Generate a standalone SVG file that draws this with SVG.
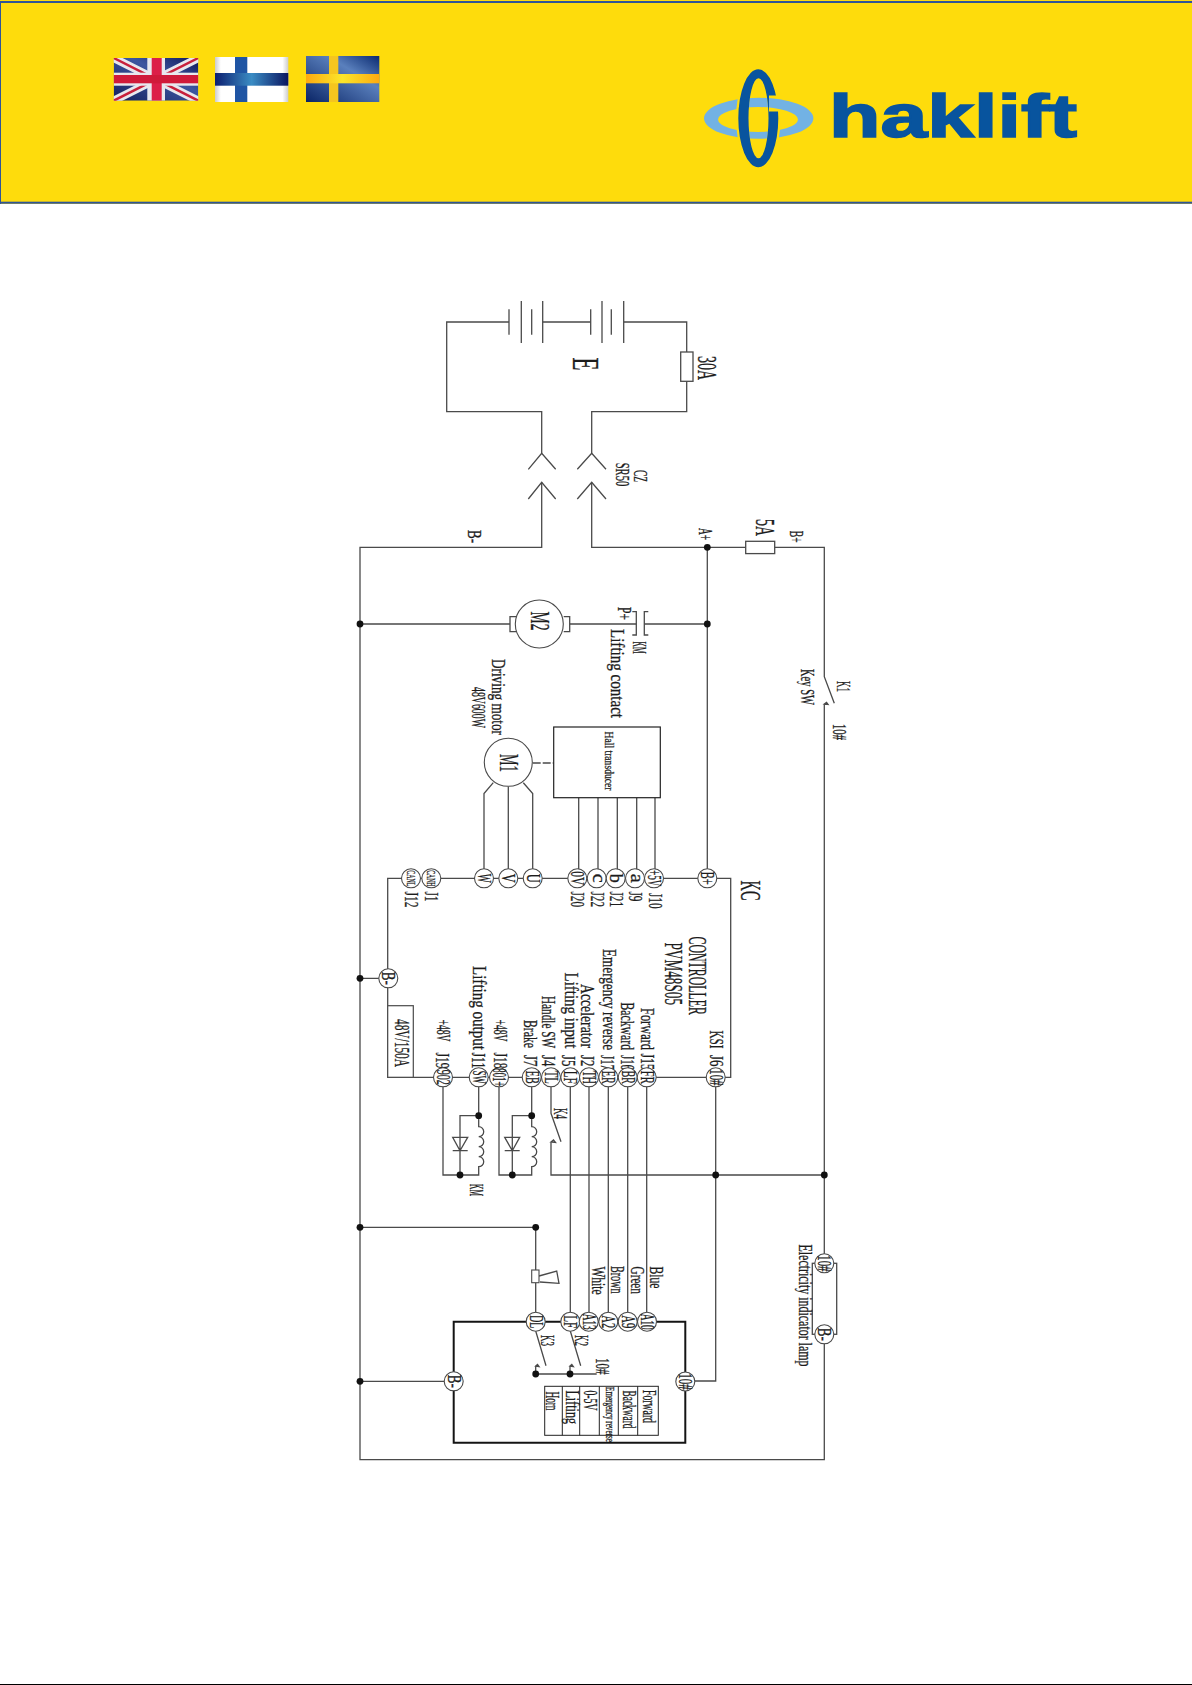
<svg xmlns="http://www.w3.org/2000/svg" width="1192" height="1685" viewBox="0 0 1192 1685">
<style>
text{font-family:"Liberation Serif",serif;fill:#1c1c1c;stroke:#1c1c1c;stroke-width:.3;font-size:19px}
.w{fill:none;stroke:#4a4a4a;stroke-width:1.3}
.b{fill:none;stroke:#141414;stroke-width:2}
.n{fill:#111}
.p{fill:#fff;stroke:#4a4a4a;stroke-width:1.1}
.m{text-anchor:middle;font-size:18px}
.s{font-size:13px}
.f{font-size:28px}
</style>
<defs>
<linearGradient id="fi" x1="0" x2="1" y1="0" y2="0"><stop offset="0" stop-color="#0c1f70"/><stop offset=".5" stop-color="#3a8cc4"/><stop offset="1" stop-color="#0a1560"/></linearGradient>
<linearGradient id="fe" x1="0" x2="1" y1="0" y2="0"><stop offset="0" stop-color="#ccc"/><stop offset=".08" stop-color="#fff"/><stop offset=".92" stop-color="#fff"/><stop offset="1" stop-color="#ccc"/></linearGradient>
<linearGradient id="se" x1="0" x2="1" y1="1" y2="0"><stop offset="0" stop-color="#0a2566"/><stop offset=".65" stop-color="#5a80bd"/><stop offset="1" stop-color="#0a2a70"/></linearGradient>
<linearGradient id="sy" x1="0" x2="1" y1="0" y2="0"><stop offset="0" stop-color="#fdaa10"/><stop offset=".5" stop-color="#fbe62a"/><stop offset="1" stop-color="#fdaa10"/></linearGradient>
<linearGradient id="uk" x1="0" x2="1" y1="1" y2="0"><stop offset="0" stop-color="#14205e"/><stop offset=".6" stop-color="#3c56a0"/><stop offset="1" stop-color="#10195a"/></linearGradient>
<clipPath id="ukc"><rect x="113.7" y="58" width="84.6" height="42.7"/></clipPath>
<clipPath id="gap"><path clip-rule="evenodd" d="M700 60H800V175H700ZM769 95.5H782V111.5H769Z"/></clipPath>
</defs>
<g id="header">
<rect x="0" y="0" width="1192" height="204" fill="#fedc0c"/>
<rect x="0" y="1" width="1192" height="2" fill="#2f5597"/>
<rect x="0" y="201.7" width="1192" height="2" fill="#2f5597"/>
<rect x="0" y="1" width="1" height="203" fill="#2f5597"/>
</g>
<g id="flag-uk" clip-path="url(#ukc)">
<rect x="113.7" y="58" width="84.6" height="42.7" fill="url(#uk)"/>
<path d="M113.7 58L198.3 100.7M198.3 58L113.7 100.7" stroke="#e8e8ee" stroke-width="8" fill="none"/>
<path d="M113.7 58L198.3 100.7M198.3 58L113.7 100.7" stroke="#c8203c" stroke-width="2.5" fill="none"/>
<rect x="147.3" y="58" width="17.7" height="42.7" fill="#e8e8ee"/>
<rect x="113.7" y="72.7" width="84.6" height="13" fill="#e8e8ee"/>
<rect x="151.7" y="58" width="10" height="42.7" fill="#dc1f48"/>
<rect x="113.7" y="75" width="84.6" height="8.3" fill="#d01a3a"/>
</g>
<g id="flag-fi">
<rect x="215" y="57" width="73.3" height="45" fill="url(#fe)"/>
<rect x="235" y="57" width="12.3" height="45" fill="#1f55a4"/>
<rect x="215" y="73" width="73.3" height="12.7" fill="url(#fi)"/>
</g>
<g id="flag-se">
<rect x="306" y="56" width="73.3" height="46" fill="url(#se)"/>
<rect x="329" y="56" width="9.3" height="46" fill="#f5c51f"/>
<rect x="306" y="74" width="73.3" height="9.3" fill="url(#sy)"/>
</g>
<g id="logo">
<path fill="#72b2e4" fill-rule="evenodd" d="M704 118.3a54.7 20.5 0 1 0 109.4 0a54.7 20.5 0 1 0 -109.4 0ZM718 119.5a40 12.5 0 1 0 80 0a40 12.5 0 1 0 -80 0Z"/>
<g clip-path="url(#gap)">
<path fill="#fedc0c" fill-rule="evenodd" d="M736 118.3a22.3 51 0 1 0 44.6 0a22.3 51 0 1 0 -44.6 0ZM748.5 118.3a10 40 0 1 0 20 0a10 40 0 1 0 -20 0Z"/>
<path fill="#08549e" fill-rule="evenodd" d="M738.3 118.3a20 49 0 1 0 40 0a20 49 0 1 0 -40 0ZM748.5 118.3a10 40 0 1 0 20 0a10 40 0 1 0 -20 0Z"/>
</g>
<text x="829" y="137" textLength="248" lengthAdjust="spacingAndGlyphs" style="font-family:'Liberation Sans',sans-serif;font-weight:700;font-size:61px;fill:#08549e;stroke:#08549e;stroke-width:1.6">haklift</text>
</g>
<g id="connectors">
<path class="w" d="M509 322H446.7V411.7H541.7V453.3M542.7 322H590.7M623.7 322H686.7V352M686.7 381.3V411.7H591.7V453.3"/>
<path class="w" d="M528.3 469.3L541.7 453.3L555.7 469.3M577.3 469.3L591.7 453.3L606 469.3M528.3 499L541.7 482.3L555.7 499M577.3 499L591.7 482.3L606 499"/>
<path class="w" d="M541.7 482.3V547.3H360V1459.7H824.3V1334.3M591.7 482.3V547.3H745.7M774.7 547.3H824.3V676.7L834.3 703.3M824.3 704V1263.3M824.3 704L826.5 702.5L828 704.5Z"/>
<path class="w" d="M360 624H510M569.7 624H636.3M644.3 624H707.3M707.3 547.3V878.3"/>
<path class="w" d="M387.7 978.3V878.3H730.7V1077.3H387.7V978.3M360 978.3H388"/>
<path class="w" d="M484 878.3V793.5L493.3 782.7M508.3 878.3V786.5M532.7 878.3V793.5L523.3 782.7"/>
<path class="w" d="M578.7 797.7V878.3M598 797.7V878.3M617.3 797.7V878.3M636.7 797.7V878.3M655 797.7V878.3"/>
<path class="w" stroke-dasharray="8 2" d="M532.7 763H553.7"/>
<path class="w" d="M478.7 1077.3V1126.7a5 5 0 0 1 0 10a5 5 0 0 1 0 10a5 5 0 0 1 0 10a5 5 0 0 1 0 10V1175H443V1077.3M478.7 1115.7H460V1175M452.7 1137.3H467.7L460 1150.7L452.7 1137.3ZM452.7 1150.7H467.7"/>
<path class="w" d="M531.7 1077.3V1126.7a5 5 0 0 1 0 10a5 5 0 0 1 0 10a5 5 0 0 1 0 10a5 5 0 0 1 0 10V1175H499V1077.3M531.7 1115.7H512.3V1175M504.7 1137.3H519.7L512.3 1150.7L504.7 1137.3ZM504.7 1150.7H519.7"/>
<path class="w" d="M551 1077.3V1113.3L561 1141.7M551 1142V1175H824.3M551 1142L553.5 1140L555.5 1142.5Z"/>
<path class="w" d="M570.3 1077.3V1321.7M589 1077.3V1321.7M608.3 1077.3V1321.7M627.7 1077.3V1321.7M646.7 1077.3V1321.7"/>
<path class="w" d="M715.7 1077.3V1381H685.3"/>
<path class="w" d="M360 1227.3H535.7V1270M535.7 1282.7V1321.7M360 1381.3H453.7"/>
<path class="w" stroke-width=".9" d="M539 1276L556.7 1271L559 1283.3L540 1282"/>
<path class="w" d="M535.7 1331L546 1365.7M570.3 1331L580.7 1365.7M535.7 1374V1366M570 1374V1366M535.7 1366L537.5 1364.5L539 1366.5ZM570 1366L571.8 1364.5L573.3 1366.5ZM535.7 1374H596.7"/>
<path class="b" d="M453.7 1381.3V1321.7H685.3V1442.7H453.7V1381.3"/>
</g>
<g id="nodes">
<g id="battery"><path class="w" d="M509 309.3V334.7M521.3 301V343M531.7 309.3V334.7M542.7 301V343M590.7 309.3V334.7M602 301V343M611.3 309.3V334.7M623.7 301V343"/><text transform="translate(573,357.5) rotate(90)" textLength="13" lengthAdjust="spacingAndGlyphs" style="font-size:38px">E</text></g>
<g id="fuse-30a"><rect class="w" x="680.7" y="352" width="12.3" height="29.3"/><text class="f" transform="translate(698,356) rotate(90)" textLength="24" lengthAdjust="spacingAndGlyphs">30A</text></g>
<g id="cz"><text transform="translate(633.5,470) rotate(90)" textLength="12" lengthAdjust="spacingAndGlyphs">CZ</text><text transform="translate(616,462.7) rotate(90)" textLength="23.5" lengthAdjust="spacingAndGlyphs">SR50</text></g>
<g id="lab-b-minus"><text transform="translate(467.5,530) rotate(90)" textLength="13" lengthAdjust="spacingAndGlyphs">B-</text></g>
<g id="lab-a-plus"><text transform="translate(698.5,528) rotate(90)" textLength="12" lengthAdjust="spacingAndGlyphs">A+</text></g>
<g id="fuse-5a"><rect class="w" x="745.7" y="541.3" width="29" height="12.3"/><text class="f" transform="translate(756,519) rotate(90)" textLength="17" lengthAdjust="spacingAndGlyphs">5A</text></g>
<g id="lab-b-plus"><text transform="translate(790,530.7) rotate(90)" textLength="12" lengthAdjust="spacingAndGlyphs">B+</text></g>
<g id="m2"><path class="w" d="M516 616.7H510V631.7H516M563.7 616.7H569.7V631.7H563.7"/><circle class="p" cx="539.3" cy="624" r="24"/><text class="f" transform="translate(531,611.5) rotate(90)" textLength="19" lengthAdjust="spacingAndGlyphs">M2</text></g>
<g id="km-contact"><path class="w" d="M632.3 611.7H636.3V635H632.3M648.3 611.7H644.3V635H648.3"/><text transform="translate(617.5,607) rotate(90)" textLength="13" lengthAdjust="spacingAndGlyphs">P+</text><text transform="translate(633,641.5) rotate(90)" textLength="12" lengthAdjust="spacingAndGlyphs">KM</text><text transform="translate(611,629) rotate(90)" textLength="89" lengthAdjust="spacingAndGlyphs">Lifting contact</text></g>
<g id="m1"><circle class="p" cx="508.3" cy="762.3" r="24"/><text class="f" transform="translate(499.5,754) rotate(90)" textLength="18" lengthAdjust="spacingAndGlyphs">M1</text><text transform="translate(491.5,659) rotate(90)" textLength="76" lengthAdjust="spacingAndGlyphs">Driving motor</text><text transform="translate(472,687) rotate(90)" textLength="41" lengthAdjust="spacingAndGlyphs">48V600W</text></g>
<g id="hall"><rect x="553.7" y="727" width="106.6" height="70.7" fill="#fff" stroke="#222" stroke-width="1.2"/><text class="s" transform="translate(604.5,731.5) rotate(90)" textLength="59" lengthAdjust="spacingAndGlyphs">Hall transducer</text></g>
<g id="k1"><text transform="translate(801,669) rotate(90)" textLength="36" lengthAdjust="spacingAndGlyphs">Key SW</text><text transform="translate(837,681) rotate(90)" textLength="11" lengthAdjust="spacingAndGlyphs">K1</text><text transform="translate(833,724) rotate(90)" textLength="16" lengthAdjust="spacingAndGlyphs">10#</text></g>
<g id="kc">
<text transform="translate(741,880.5) rotate(90)" textLength="20" lengthAdjust="spacingAndGlyphs" style="font-size:30px">KC</text>
<text transform="translate(688.5,936.5) rotate(90)" textLength="78.5" lengthAdjust="spacingAndGlyphs" style="font-size:26px">CONTROLLER</text>
<text transform="translate(665,942.5) rotate(90)" textLength="62.5" lengthAdjust="spacingAndGlyphs" style="font-size:26px">PVM48S05</text>
<text transform="translate(424.5,891.5) rotate(90)" textLength="10" lengthAdjust="spacingAndGlyphs">J1</text>
<text transform="translate(404.5,891.5) rotate(90)" textLength="16" lengthAdjust="spacingAndGlyphs">J12</text>
<text transform="translate(571,891.5) rotate(90)" textLength="15.5" lengthAdjust="spacingAndGlyphs">J20</text>
<text transform="translate(590.5,891.5) rotate(90)" textLength="15.5" lengthAdjust="spacingAndGlyphs">J22</text>
<text transform="translate(610,891.5) rotate(90)" textLength="15.5" lengthAdjust="spacingAndGlyphs">J21</text>
<text transform="translate(628.5,891.5) rotate(90)" textLength="10" lengthAdjust="spacingAndGlyphs">J9</text>
<text transform="translate(648.5,893) rotate(90)" textLength="15.5" lengthAdjust="spacingAndGlyphs">J10</text>
<text transform="translate(436.5,1019.5) rotate(90)" textLength="22" lengthAdjust="spacingAndGlyphs">+48V</text>
<text transform="translate(435.5,1052.5) rotate(90)" textLength="16" lengthAdjust="spacingAndGlyphs">J19</text>
<text transform="translate(472.5,966) rotate(90)" textLength="84" lengthAdjust="spacingAndGlyphs">Lifting output</text>
<text transform="translate(472,1052.5) rotate(90)" textLength="16" lengthAdjust="spacingAndGlyphs">J11</text>
<text transform="translate(494,1019.5) rotate(90)" textLength="22" lengthAdjust="spacingAndGlyphs">+48V</text>
<text transform="translate(494,1052.5) rotate(90)" textLength="16" lengthAdjust="spacingAndGlyphs">J18</text>
<text transform="translate(523.5,1020) rotate(90)" textLength="28" lengthAdjust="spacingAndGlyphs">Brake</text>
<text transform="translate(523.5,1055) rotate(90)" textLength="11.5" lengthAdjust="spacingAndGlyphs">J7</text>
<text transform="translate(542,996) rotate(90)" textLength="52" lengthAdjust="spacingAndGlyphs">Handle SW</text>
<text transform="translate(542,1055) rotate(90)" textLength="11.5" lengthAdjust="spacingAndGlyphs">J4</text>
<text transform="translate(564.5,972.5) rotate(90)" textLength="76" lengthAdjust="spacingAndGlyphs">Lifting input</text>
<text transform="translate(562,1055) rotate(90)" textLength="11.5" lengthAdjust="spacingAndGlyphs">J5</text>
<text transform="translate(581,984) rotate(90)" textLength="64" lengthAdjust="spacingAndGlyphs">Accelerator</text>
<text transform="translate(581,1055) rotate(90)" textLength="11.5" lengthAdjust="spacingAndGlyphs">J2</text>
<text transform="translate(603,949) rotate(90)" textLength="101" lengthAdjust="spacingAndGlyphs">Emergency reverse</text>
<text transform="translate(600.5,1055) rotate(90)" textLength="15" lengthAdjust="spacingAndGlyphs">J17</text>
<text transform="translate(621,1002.5) rotate(90)" textLength="47.5" lengthAdjust="spacingAndGlyphs">Backward</text>
<text transform="translate(621,1055) rotate(90)" textLength="15" lengthAdjust="spacingAndGlyphs">J16</text>
<text transform="translate(641,1008) rotate(90)" textLength="42" lengthAdjust="spacingAndGlyphs">Forward</text>
<text transform="translate(641,1053.5) rotate(90)" textLength="16.5" lengthAdjust="spacingAndGlyphs">J15</text>
<text transform="translate(710,1030.5) rotate(90)" textLength="18" lengthAdjust="spacingAndGlyphs">KSI</text>
<text transform="translate(710,1055) rotate(90)" textLength="11.5" lengthAdjust="spacingAndGlyphs">J6</text>
</g>
<g id="fuse-48v"><rect x="387.7" y="1005.7" width="25.6" height="71.6" fill="#fff" stroke="#4a4a4a" stroke-width="1.2"/><text transform="translate(394.5,1019) rotate(90)" textLength="48" lengthAdjust="spacingAndGlyphs" style="font-size:20px">48V/150A</text></g>
<g id="lab-km"><text transform="translate(470,1184) rotate(90)" textLength="12" lengthAdjust="spacingAndGlyphs">KM</text></g>
<g id="lab-k4"><text transform="translate(553.5,1108) rotate(90)" textLength="11" lengthAdjust="spacingAndGlyphs">K4</text></g>
<g id="handle">
<text transform="translate(592,1266.5) rotate(90)" textLength="28" lengthAdjust="spacingAndGlyphs">White</text>
<text transform="translate(611,1266) rotate(90)" textLength="27.5" lengthAdjust="spacingAndGlyphs">Brown</text>
<text transform="translate(631,1266.5) rotate(90)" textLength="27.5" lengthAdjust="spacingAndGlyphs">Green</text>
<text transform="translate(650,1266.5) rotate(90)" textLength="22" lengthAdjust="spacingAndGlyphs">Blue</text>
<text transform="translate(541,1335) rotate(90)" textLength="11" lengthAdjust="spacingAndGlyphs">K3</text>
<text transform="translate(575,1335) rotate(90)" textLength="11" lengthAdjust="spacingAndGlyphs">K2</text>
<text transform="translate(596,1358) rotate(90)" textLength="16.5" lengthAdjust="spacingAndGlyphs">10#</text>
</g>
<g id="horn"><rect x="531.7" y="1270" width="7.3" height="12.7" fill="#fff" stroke="#4a4a4a" stroke-width="1.1"/></g>
<g id="table">
<rect x="544.7" y="1386.3" width="113.6" height="49" fill="#fff" stroke="#222" stroke-width="1"/>
<path stroke="#222" stroke-width="1" d="M562.3 1386.3V1435.3M579.7 1386.3V1435.3M599.3 1386.3V1435.3M618.3 1386.3V1435.3M637.7 1386.3V1435.3"/>
<text transform="translate(546,1391.5) rotate(90)" textLength="19" lengthAdjust="spacingAndGlyphs">Horn</text>
<text transform="translate(566,1390.5) rotate(90)" textLength="33.5" lengthAdjust="spacingAndGlyphs">Lifting</text>
<text transform="translate(583.5,1390.5) rotate(90)" textLength="20" lengthAdjust="spacingAndGlyphs">0-5V</text>
<text transform="translate(605.5,1387) rotate(90)" textLength="55" lengthAdjust="spacingAndGlyphs" style="font-size:12px">Emergency reverse</text>
<text transform="translate(622.5,1390.5) rotate(90)" textLength="38" lengthAdjust="spacingAndGlyphs">Backward</text>
<text transform="translate(642.5,1390) rotate(90)" textLength="33" lengthAdjust="spacingAndGlyphs">Forward</text>
</g>
<g id="lamp"><rect class="w" x="812.3" y="1263.3" width="24.4" height="71"/><text transform="translate(799,1244.5) rotate(90)" textLength="122" lengthAdjust="spacingAndGlyphs">Electricity indicator lamp</text></g>
<g id="dots" class="n">
<circle cx="707.3" cy="547.3" r="3.4"/><circle cx="360" cy="624" r="3.4"/><circle cx="707.3" cy="624" r="3.4"/><circle cx="360" cy="978.3" r="3.4"/><circle cx="478.7" cy="1115.7" r="3.4"/><circle cx="531.7" cy="1115.7" r="3.4"/><circle cx="460" cy="1175" r="3.4"/><circle cx="512.3" cy="1175" r="3.4"/><circle cx="715.7" cy="1175" r="3.4"/><circle cx="824.3" cy="1175" r="3.4"/><circle cx="360" cy="1227.3" r="3.4"/><circle cx="535.7" cy="1227.3" r="3.4"/><circle cx="360" cy="1381.3" r="3.4"/><circle cx="535.7" cy="1374" r="3.4"/><circle cx="570" cy="1374" r="3.4"/>
</g>
<g id="pin-w" transform="translate(484,878.3)"><circle class="p" r="9.5"/><text class="m" transform="translate(-6,0) rotate(90)" textLength="9" lengthAdjust="spacingAndGlyphs">W</text></g>
<g id="pin-v" transform="translate(508.3,878.3)"><circle class="p" r="9.5"/><text class="m" transform="translate(-6,0) rotate(90)" textLength="9" lengthAdjust="spacingAndGlyphs">V</text></g>
<g id="pin-u" transform="translate(532.7,878.3)"><circle class="p" r="9.5"/><text class="m" transform="translate(-6,0) rotate(90)" textLength="9" lengthAdjust="spacingAndGlyphs">U</text></g>
<g id="pin-0v" transform="translate(577.3,878.3)"><circle class="p" r="9.5"/><text class="m" transform="translate(-6,0) rotate(90)" textLength="14" lengthAdjust="spacingAndGlyphs">0V</text></g>
<g id="pin-c" transform="translate(596.7,878.3)"><circle class="p" r="9.5"/><text class="m" transform="translate(-4,0) rotate(90)" textLength="9" lengthAdjust="spacingAndGlyphs">c</text></g>
<g id="pin-b" transform="translate(615.7,878.3)"><circle class="p" r="9.5"/><text class="m" transform="translate(-6,0) rotate(90)" textLength="9" lengthAdjust="spacingAndGlyphs">b</text></g>
<g id="pin-a" transform="translate(635,878.3)"><circle class="p" r="9.5"/><text class="m" transform="translate(-4,0) rotate(90)" textLength="9" lengthAdjust="spacingAndGlyphs">a</text></g>
<g id="pin-5v" transform="translate(654,878.3)"><circle class="p" r="9.5"/><text class="m" transform="translate(-6,0) rotate(90)" textLength="16" lengthAdjust="spacingAndGlyphs">+5V</text></g>
<g id="pin-bp" transform="translate(707.3,878.3)"><circle class="p" r="9.5"/><text class="m" transform="translate(-6,0) rotate(90)" textLength="13" lengthAdjust="spacingAndGlyphs">B+</text></g>
<g id="pin-canh" transform="translate(431.3,878.3)"><circle class="p" r="9.5"/><text class="m s" transform="translate(-4.5,0) rotate(90)" textLength="16" lengthAdjust="spacingAndGlyphs">CANH</text></g>
<g id="pin-canl" transform="translate(411,878.3)"><circle class="p" r="9.5"/><text class="m s" transform="translate(-4.5,0) rotate(90)" textLength="16" lengthAdjust="spacingAndGlyphs">CANL</text></g>
<g id="pin-bm" transform="translate(388.3,978.3)"><circle class="p" r="9.5"/><text class="m" transform="translate(-6,0) rotate(90)" textLength="13" lengthAdjust="spacingAndGlyphs">B-</text></g>
<g id="pin-902" transform="translate(443,1077.3)"><circle class="p" r="9.5"/><text class="m" transform="translate(-6,0) rotate(90)" textLength="15" lengthAdjust="spacingAndGlyphs">902</text></g>
<g id="pin-sw" transform="translate(478.7,1077.3)"><circle class="p" r="9.5"/><text class="m" transform="translate(-6,0) rotate(90)" textLength="13" lengthAdjust="spacingAndGlyphs">SW</text></g>
<g id="pin-801" transform="translate(499,1077.3)"><circle class="p" r="9.5"/><text class="m" transform="translate(-6,0) rotate(90)" textLength="18" lengthAdjust="spacingAndGlyphs">801+</text></g>
<g id="pin-eb" transform="translate(531.7,1077.3)"><circle class="p" r="9.5"/><text class="m" transform="translate(-6,0) rotate(90)" textLength="13" lengthAdjust="spacingAndGlyphs">EB</text></g>
<g id="pin-tl" transform="translate(551,1077.3)"><circle class="p" r="9.5"/><text class="m" transform="translate(-6,0) rotate(90)" textLength="13" lengthAdjust="spacingAndGlyphs">TL</text></g>
<g id="pin-lf" transform="translate(570.3,1077.3)"><circle class="p" r="9.5"/><text class="m" transform="translate(-6,0) rotate(90)" textLength="13" lengthAdjust="spacingAndGlyphs">LF</text></g>
<g id="pin-th" transform="translate(589,1077.3)"><circle class="p" r="9.5"/><text class="m" transform="translate(-6,0) rotate(90)" textLength="13" lengthAdjust="spacingAndGlyphs">TH</text></g>
<g id="pin-er" transform="translate(608.3,1077.3)"><circle class="p" r="9.5"/><text class="m" transform="translate(-6,0) rotate(90)" textLength="13" lengthAdjust="spacingAndGlyphs">ER</text></g>
<g id="pin-br" transform="translate(627.7,1077.3)"><circle class="p" r="9.5"/><text class="m" transform="translate(-6,0) rotate(90)" textLength="13" lengthAdjust="spacingAndGlyphs">BR</text></g>
<g id="pin-fr" transform="translate(646.7,1077.3)"><circle class="p" r="9.5"/><text class="m" transform="translate(-6,0) rotate(90)" textLength="13" lengthAdjust="spacingAndGlyphs">FR</text></g>
<g id="pin-10" transform="translate(715.7,1077.3)"><circle class="p" r="9.5"/><text class="m" transform="translate(-6,0) rotate(90)" textLength="16" lengthAdjust="spacingAndGlyphs">10#</text></g>
<g id="pin-dl" transform="translate(535.7,1321.7)"><circle class="p" r="9.5"/><text class="m" transform="translate(-6,0) rotate(90)" textLength="13" lengthAdjust="spacingAndGlyphs">DL</text></g>
<g id="pin-lf2" transform="translate(570.3,1321.7)"><circle class="p" r="9.5"/><text class="m" transform="translate(-6,0) rotate(90)" textLength="13" lengthAdjust="spacingAndGlyphs">LF</text></g>
<g id="pin-a13" transform="translate(588.7,1321.7)"><circle class="p" r="9.5"/><text class="m" transform="translate(-6,0) rotate(90)" textLength="16" lengthAdjust="spacingAndGlyphs">A13</text></g>
<g id="pin-a2" transform="translate(608.3,1321.7)"><circle class="p" r="9.5"/><text class="m" transform="translate(-6,0) rotate(90)" textLength="13" lengthAdjust="spacingAndGlyphs">A2</text></g>
<g id="pin-a9" transform="translate(627.7,1321.7)"><circle class="p" r="9.5"/><text class="m" transform="translate(-6,0) rotate(90)" textLength="13" lengthAdjust="spacingAndGlyphs">A9</text></g>
<g id="pin-a10" transform="translate(647,1321.7)"><circle class="p" r="9.5"/><text class="m" transform="translate(-6,0) rotate(90)" textLength="16" lengthAdjust="spacingAndGlyphs">A10</text></g>
<g id="pin-b2" transform="translate(453.7,1381.3)"><circle class="p" r="9.5"/><text class="m" transform="translate(-6,0) rotate(90)" textLength="13" lengthAdjust="spacingAndGlyphs">B-</text></g>
<g id="pin-102" transform="translate(685.3,1381.5)"><circle class="p" r="9.5"/><text class="m" transform="translate(-6,0) rotate(90)" textLength="16" lengthAdjust="spacingAndGlyphs">10#</text></g>
<g id="pin-lamp1" transform="translate(824.3,1263.3)"><circle class="p" r="9.5"/><text class="m" transform="translate(-6,0) rotate(90)" textLength="16" lengthAdjust="spacingAndGlyphs">10#</text></g>
<g id="pin-lamp2" transform="translate(824.3,1334.3)"><circle class="p" r="9.5"/><text class="m" transform="translate(-6,0) rotate(90)" textLength="13" lengthAdjust="spacingAndGlyphs">B-</text></g>
</g>
<g id="footer">
<rect x="0" y="1684" width="1192" height="1" fill="#000"/>
</g>
</svg>
